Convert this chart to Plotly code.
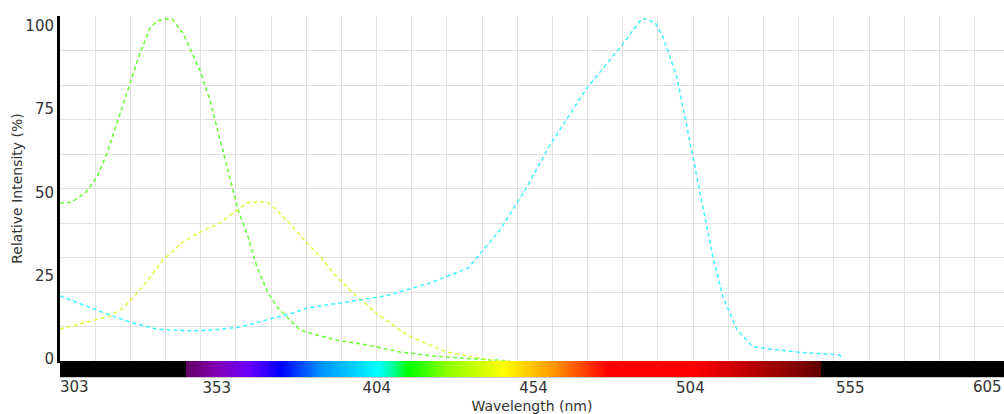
import plotly.graph_objects as go
import numpy as np

# ---------------- data ----------------
green_nm = [303.0, 306.8, 311.0, 314.8, 318.0, 319.9, 324.7, 328.5, 331.7, 333.9, 335.8,
            338.7, 342.2, 347.6, 350.8, 354.0, 357.2, 359.8, 362.6, 365.8, 369.3, 372.5,
            379.5, 384.9, 391.3, 400.9, 411.4, 421.9, 430.5, 439.2, 446.5]
green_val = [47.4, 47.7, 50.4, 55.2, 62.4, 67.8, 81.3, 92.4, 99.9, 102.0, 102.6,
             102.6, 98.4, 87.3, 78.3, 66.3, 54.3, 45.3, 38.4, 28.2, 20.4, 15.9,
             9.3, 7.8, 6.3, 4.8, 2.7, 1.5, 0.9, 0.3, 0.0]

yellow_nm = [303.0, 310.3, 318.9, 323.1, 327.6, 331.7, 335.8, 342.2, 347.6, 354.0, 358.1,
             362.6, 365.8, 369.0, 372.2, 377.3, 381.8, 386.9, 391.3, 395.5, 403.4, 411.4,
             415.6, 421.0, 426.4, 434.7, 443.3, 446.5]
yellow_val = [9.6, 11.4, 13.5, 15.9, 20.4, 24.9, 30.3, 35.7, 38.7, 41.4, 44.4,
              47.4, 47.7, 47.7, 45.3, 40.2, 35.4, 30.3, 25.2, 21.3, 14.7, 9.3,
              6.9, 4.8, 2.7, 1.2, 0.0, 0.0]

cyan_nm = [303.0, 310.3, 318.9, 326.3, 333.9, 343.5, 351.8, 360.4, 369.0, 377.3, 381.8,
           394.5, 406.6, 421.0, 433.1, 443.3, 451.3, 459.2, 471.0, 482.2, 488.6, 492.7,
           495.3, 499.7, 503.9, 507.7, 511.2, 514.4, 518.9, 524.0, 538.0, 551.7, 552.3]
cyan_val = [19.5, 16.8, 13.8, 11.4, 9.6, 9.0, 9.3, 10.2, 12.3, 14.4, 15.9,
            17.7, 19.5, 23.4, 27.9, 39.3, 51.3, 64.8, 81.9, 94.8, 102.9, 101.7,
            97.2, 85.2, 65.4, 47.4, 31.2, 19.2, 9.3, 4.2, 2.7, 1.8, 0.9]

x_tick_vals = [353, 404, 454, 504, 555]
x_tick_text = ["353", "404", "454", "504", "555"]
x_end_labels = ["303", "605"]
y_tick_vals = [0, 25, 50, 75, 100]
y_tick_text = ["0", "25", "50", "75", "100"]

# spectrum colour bar stops (wavelength on this axis -> colour)
bar_stop_nm = [303, 343.0, 343.1, 353.2, 363.4, 373.5, 386.2, 404.5, 409.5, 414.0, 427.0,
               444.5, 460.7, 477.5, 505.3, 525.6, 545.9, 546.0, 604]
bar_stop_col = ["#000000", "#000000", "#610061", "#8300b5", "#6a00ff", "#0000ff", "#0092ff",
                "#00ffff", "#00ff92", "#00ff00", "#92ff00", "#ffff00", "#ff9400", "#ff0000",
                "#ff0000", "#b50000", "#610000", "#000000", "#000000"]

X_MIN, X_MAX = 303, 604
Y_MAX = 103.55

# ---------------- figure ----------------
fig = go.Figure()

line_style = dict(width=1.5, dash="4px,3px")
fig.add_trace(go.Scatter(x=green_nm, y=green_val, mode="lines",
                         line=dict(color="#66ff33", **line_style), xaxis="x", yaxis="y",
                         showlegend=False, hoverinfo="x+y"))
fig.add_trace(go.Scatter(x=yellow_nm, y=yellow_val, mode="lines",
                         line=dict(color="#e0ff40", **line_style), xaxis="x", yaxis="y",
                         showlegend=False, hoverinfo="x+y"))
fig.add_trace(go.Scatter(x=cyan_nm, y=cyan_val, mode="lines",
                         line=dict(color="#40f4ff", **line_style), xaxis="x", yaxis="y",
                         showlegend=False, hoverinfo="x+y"))

# colour bar as heatmap
bar_x = np.arange(X_MIN, X_MAX + 1, 0.5)
span = bar_stop_nm[-1] - bar_stop_nm[0]
colorscale = [[(w - bar_stop_nm[0]) / span, c] for w, c in zip(bar_stop_nm, bar_stop_col)]
fig.add_trace(go.Heatmap(x=bar_x, y=[0.5], z=[bar_x], colorscale=colorscale,
                         zmin=bar_stop_nm[0], zmax=bar_stop_nm[-1], showscale=False,
                         xaxis="x2", yaxis="y2", hoverinfo="skip"))

W, H = 1004, 414
mt, mb = 16, 37
plot_h = H - mt - mb
bar_h = 16
bar_frac = bar_h / plot_h

font_col = "#333333"
fam = "DejaVu Sans"

fig.update_layout(
    width=W, height=H,
    margin=dict(l=60, r=0, t=mt, b=mb, autoexpand=False),
    paper_bgcolor="white", plot_bgcolor="white",
    font=dict(family=fam, size=14, color=font_col),
    xaxis=dict(domain=[0, 1], range=[X_MIN, X_MAX], anchor="y", automargin=False,
               showticklabels=False, ticks="", showgrid=False, zeroline=False,
               showline=True, linecolor="black", linewidth=2,
               minor=dict(tick0=X_MIN, dtick=11.216, showgrid=True,
                          gridcolor="#e1e1e1", gridwidth=1, ticks="")),
    xaxis2=dict(domain=[0, 1], matches="x", anchor="y2", automargin=False,
                tickmode="array", tickvals=x_tick_vals, ticktext=x_tick_text,
                ticks="", showgrid=False, zeroline=False, ticklabelstandoff=-3,
                tickfont=dict(family=fam, size=15, color=font_col),
                showline=True, linecolor="#c8c8c8", linewidth=1,
                title=dict(text="Wavelength (nm)", font=dict(family=fam, size=14, color=font_col),
                           standoff=7)),
    yaxis=dict(domain=[bar_frac, 1], range=[0, Y_MAX], anchor="x", automargin=False,
               tickmode="array", tickvals=y_tick_vals, ticktext=y_tick_text,
               ticks="", showgrid=False, zeroline=False, ticklabelshift=-2,
               tickfont=dict(family=fam, size=15, color=font_col),
               showline=True, linecolor="black", linewidth=3,
               minor=dict(tick0=0, dtick=Y_MAX / 10.0 - 0.001, showgrid=True,
                          gridcolor="#e1e1e1", gridwidth=1, ticks=""),
               title=dict(text="Relative Intensity (%)", standoff=0,
                          font=dict(family=fam, size=14, color=font_col))),
    yaxis2=dict(domain=[0, bar_frac], range=[0, 1], anchor="x2", visible=False,
                fixedrange=True, automargin=False),
)

# end tick labels, aligned inside the plot like the reference
fig.add_annotation(x=X_MIN, y=0, xref="x", yref="paper", text=x_end_labels[0],
                   xanchor="left", yanchor="top", yshift=1, xshift=-2, showarrow=False,
                   font=dict(family=fam, size=15, color=font_col))
fig.add_annotation(x=1, y=0, xref="paper", yref="paper", text=x_end_labels[1],
                   xanchor="right", yanchor="top", yshift=1, showarrow=False,
                   font=dict(family=fam, size=15, color=font_col))

fig.write_html("out.html", config={"displayModeBar": False},
               post_script="document.body.style.margin='0';document.body.style.overflow='hidden';")
